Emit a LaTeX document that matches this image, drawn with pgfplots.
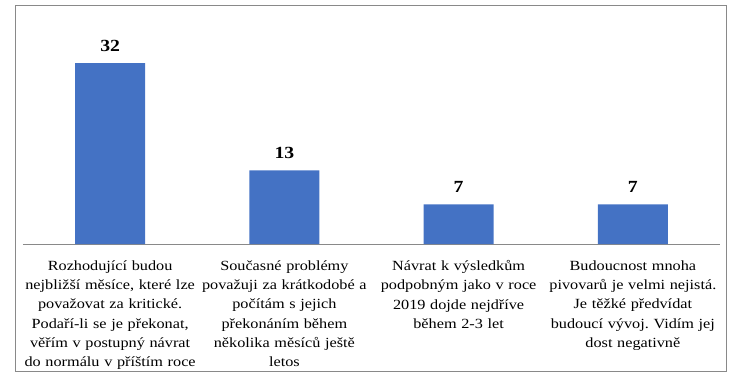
\documentclass[border=0pt]{standalone}
\usepackage{fontspec}
\setmainfont[FakeStretch=1.16]{Liberation Serif}
\usepackage{pgfplots}
\pgfplotsset{compat=1.18}
\definecolor{barblue}{RGB}{68,114,196}
\definecolor{framegray}{RGB}{137,137,137}
\frenchspacing
\begin{document}
\begin{tikzpicture}
\begin{axis}[
  scale only axis, width=697pt, height=238pt,
  xmin=-0.5, xmax=3.5, ymin=0, ymax=42.08,
  enlargelimits=false,
  axis x line*=bottom, axis y line=none,
  axis line style={framegray, line width=1pt},
  xtick={0,1,2,3}, major tick length=0pt,
  xticklabels={
    {Rozhodující budou\\nejbližší měsíce, které lze\\považovat za kritické.\\Podaří-li se je překonat,\\věřím v postupný návrat\\do normálu v příštím roce},
    {Současné problémy\\považuji za krátkodobé a\\počítám s jejich\\překonáním během\\několika měsíců ještě\\letos},
    {Návrat k výsledkům\\podpobným jako v roce\\2019 dojde nejdříve\\během 2-3 let},
    {Budoucnost mnoha\\pivovarů je velmi nejistá.\\Je těžké předvídat\\budoucí vývoj. Vidím jej\\dost negativně}
  },
  xticklabel style={text width=180pt, align=center, anchor=north, font=\fontsize{14}{19.3}\selectfont\frenchspacing, yshift=-13pt},
  ybar, bar width=70pt,
  nodes near coords,
  nodes near coords style={/pgf/number format/assume math mode=true, font=\fontsize{17}{20}\selectfont\bfseries, anchor=base, yshift=12pt, text=black},
  clip=false,
]
\addplot[fill=barblue, draw=none] coordinates {(0,32) (1,13) (2,7) (3,7)};
\coordinate (BL) at (rel axis cs:0,0);
\end{axis}
\pgfresetboundingbox
\path[use as bounding box] ([shift={(-23pt,-137pt)}]BL) rectangle ([shift={(719pt,244pt)}]BL);
\draw[framegray, line width=1pt] ([shift={(-7pt,-127pt)}]BL) rectangle ([shift={(703pt,238pt)}]BL);
\end{tikzpicture}
\end{document}
